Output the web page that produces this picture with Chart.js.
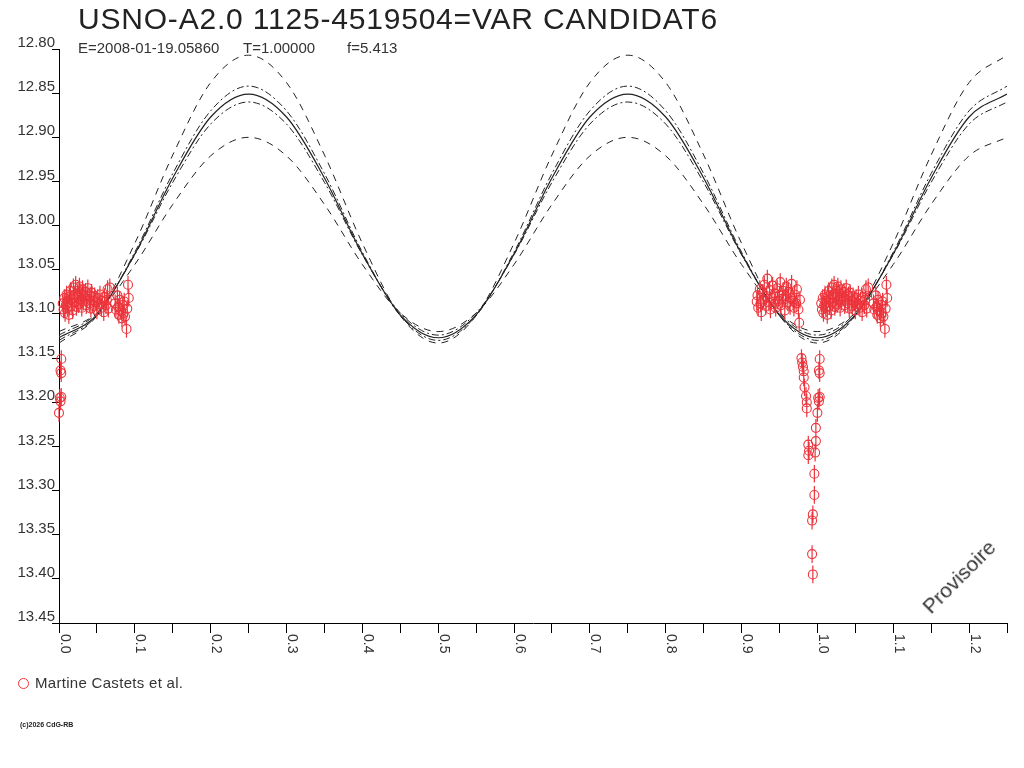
<!DOCTYPE html>
<html>
<head>
<meta charset="utf-8">
<script src="https://cdn.jsdelivr.net/npm/chart.js@4.4.1/dist/chart.umd.min.js"></script>
<style>
  body { margin: 0; background: #fff; }
  #wrap { position: relative; width: 1024px; height: 768px; overflow: hidden; font-family: "Liberation Sans", Arial, sans-serif; color: #222; }
  #lc { position: absolute; left: 0; top: 0; }
  .txt { position: absolute; white-space: nowrap; line-height: 1; }
  #title { left: 78px; top: 4px; font-size: 30px; letter-spacing: 0.8px; color: #222; }
  .sub { top: 40px; font-size: 15px; color: #333; }
  #legend { left: 18px; top: 675px; font-size: 15px; color: #333; letter-spacing: 0.3px; }
  #legend i { display: inline-block; width: 9px; height: 9px; border: 1px solid rgb(236,52,60); border-radius: 50%; margin-right: 6px; vertical-align: -1px; }
  #copy { left: 20px; top: 721px; font-size: 7px; color: #222; font-weight: bold; }
  #prov { left: 912px; top: 566px; font-size: 21px; color: #333; transform: rotate(-45deg); transform-origin: center; }
</style>
</head>
<body>
<div id="wrap">
  <canvas id="lc" width="1024" height="768"></canvas>
  <div class="txt" id="title">USNO-A2.0 1125-4519504=VAR CANDIDAT6</div>
  <div class="txt sub" style="left:78px">E=2008-01-19.05860</div>
  <div class="txt sub" style="left:243px">T=1.00000</div>
  <div class="txt sub" style="left:347px">f=5.413</div>
  <div class="txt" id="legend"><i></i>Martine Castets et al.</div>
  <div class="txt" id="copy">(c)2026 CdG-RB</div>
  <div class="txt" id="prov">Provisoire</div>
</div>
<script>
// x labels shown under the axis
xTickValues = [0.0, 0.1, 0.2, 0.3, 0.4, 0.5, 0.6, 0.7, 0.8, 0.9, 1.0, 1.1, 1.2];

// model curves, every 0.05 in phase
curvePhase = [0, 0.05, 0.1, 0.15, 0.2, 0.25, 0.3, 0.35, 0.4, 0.45, 0.5, 0.55, 0.6,
  0.65, 0.7, 0.75, 0.8, 0.85, 0.9, 0.95, 1.0, 1.05, 1.1, 1.15, 1.2, 1.25];
curveHigh = [13.133,13.102,13.020,12.920,12.838,12.807,12.838,12.920,13.020,13.102,13.133,13.102,13.020,
  12.920,12.838,12.807,12.838,12.920,13.020,13.102,13.133,13.102,13.020,12.920,12.838,12.807];
curveUpper = [13.130,13.102,13.030,12.941,12.870,12.842,12.870,12.941,13.030,13.102,13.130,13.102,13.030,
  12.941,12.870,12.842,12.870,12.941,13.030,13.102,13.130,13.102,13.030,12.941,12.870,12.842];
curveMean = [13.127,13.101,13.032,12.946,12.877,12.851,12.877,12.946,13.032,13.101,13.127,13.101,13.032,
  12.946,12.877,12.851,12.877,12.946,13.032,13.101,13.127,13.101,13.032,12.946,12.877,12.851];
curveLower = [13.124,13.099,13.033,12.951,12.885,12.860,12.885,12.951,13.033,13.099,13.124,13.099,13.033,
  12.951,12.885,12.860,12.885,12.951,13.033,13.099,13.124,13.099,13.033,12.951,12.885,12.860];
curveLow = [13.120,13.099,13.044,12.976,12.921,12.900,12.921,12.976,13.044,13.099,13.120,13.099,13.044,
  12.976,12.921,12.900,12.921,12.976,13.044,13.099,13.120,13.099,13.044,12.976,12.921,12.900];

// observations (phase, magnitude)
obsPhase = [
  0.003,0.002,0.003,0.001,0.003,0.000,0.002,
  0.005,0.006,0.007,0.008,0.009,0.010,0.011,0.012,0.013,0.014,0.015,0.016,0.017,0.018,0.019,0.020,
  0.021,0.022,0.023,0.024,0.025,0.026,0.027,0.028,0.029,0.030,0.031,0.032,0.033,0.035,0.036,0.037,
  0.038,0.040,0.041,0.042,0.043,0.045,0.046,0.047,0.049,0.050,0.051,0.053,0.054,0.056,0.057,0.059,
  0.060,0.062,0.063,0.064,0.065,0.067,
  0.074,0.075,0.077,0.078,0.079,0.080,0.082,0.083,0.084,0.085,0.086,0.087,0.089,0.090,0.091,0.092,
  0.920,0.921,0.922,0.924,0.925,0.926,0.928,0.929,0.930,0.932,0.933,0.934,0.936,0.937,0.938,0.940,
  0.941,0.943,0.944,0.945,0.947,0.948,0.950,0.951,0.952,0.954,0.955,0.957,0.958,0.959,0.961,0.962,
  0.964,0.965,0.966,0.968,0.969,0.970,0.972,0.973,0.975,0.976,0.977,
  0.979,0.980,0.981,0.982,0.982,0.983,0.985,0.986,0.986,
  0.988,0.989,0.988,0.998,0.998,0.997,0.996,0.996,0.994,0.993,0.993,0.994
];
obsMag = [
  13.151,13.164,13.167,13.195,13.194,13.212,13.199,
  13.088,13.095,13.082,13.099,13.090,13.078,13.093,13.085,13.101,13.080,13.074,13.091,13.083,13.096,13.070,13.087,
  13.078,13.067,13.092,13.081,13.074,13.089,13.069,13.084,13.077,13.093,13.072,13.086,13.080,13.075,13.090,13.083,
  13.071,13.088,13.079,13.094,13.076,13.085,13.091,13.080,13.087,13.096,13.082,13.089,13.078,13.093,13.085,13.098,
  13.081,13.090,13.084,13.072,13.094,13.070,
  13.088,13.095,13.079,13.092,13.101,13.084,13.097,13.105,13.090,13.099,13.086,13.103,13.117,13.094,13.067,13.082,
  13.086,13.079,13.093,13.072,13.088,13.098,13.076,13.084,13.067,13.091,13.080,13.060,13.087,13.073,13.095,13.082,
  13.068,13.089,13.077,13.093,13.071,13.085,13.079,13.064,13.090,13.083,13.074,13.096,13.080,13.069,13.087,13.075,
  13.091,13.082,13.066,13.085,13.093,13.078,13.088,13.072,13.095,13.110,13.084,
  13.150,13.155,13.160,13.165,13.172,13.183,13.193,13.200,13.207,
  13.248,13.255,13.260,13.229,13.244,13.257,13.281,13.305,13.327,13.334,13.372,13.395
];
obsError = 0.010;

redColor = 'rgb(236, 52, 60)';
inkColor = '#222';

// phases below 0.25 are shown a second time after 1.0
points = [];
for (i = 0; i < obsPhase.length; i++) {
  points.push({x: obsPhase[i], y: obsMag[i]});
  if (obsPhase[i] + 1 <= 1.25) {
    points.push({x: obsPhase[i] + 1, y: obsMag[i]});
  }
}

errBars = [];
points.forEach(function (p) {
  errBars.push({x: p.x, y: p.y - obsError});
  errBars.push({x: p.x, y: p.y + obsError});
  errBars.push({x: p.x, y: null});
});

function curve(values) {
  return curvePhase.map(function (ph, i) { return {x: ph, y: values[i]}; });
}

function curveSet(values, dash, width) {
  return {
    data: curve(values),
    showLine: true,
    borderColor: inkColor,
    borderWidth: width,
    borderDash: dash,
    pointRadius: 0,
    cubicInterpolationMode: 'monotone',
    order: 3
  };
}

// rotated x labels, reading top to bottom
const xLabelPlugin = {
  id: 'xLabels',
  afterDraw(chart) {
    const ctx = chart.ctx;
    const xs = chart.scales.x;
    ctx.save();
    ctx.fillStyle = '#333';
    ctx.font = '14px "Liberation Sans", Arial, sans-serif';
    ctx.textAlign = 'left';
    ctx.textBaseline = 'alphabetic';
    xTickValues.forEach(function (v) {
      ctx.save();
      ctx.translate(xs.getPixelForValue(v) + 1.5, chart.chartArea.bottom + 11);
      ctx.rotate(Math.PI / 2);
      ctx.fillText(v.toFixed(1), 0, 0);
      ctx.restore();
    });
    ctx.restore();
  }
};

const config = {
  type: 'scatter',
  data: {
    datasets: [
      {
        data: points,
        pointRadius: 4.5,
        pointBorderWidth: 1.1,
        pointBorderColor: redColor,
        pointBackgroundColor: 'rgba(0,0,0,0)',
        showLine: false,
        clip: 8,
        order: 0
      },
      {
        data: errBars,
        showLine: true,
        spanGaps: false,
        borderColor: redColor,
        borderWidth: 1.2,
        pointRadius: 0,
        clip: 8,
        order: 1
      },
      curveSet(curveHigh, [7, 6], 1),
      curveSet(curveUpper, [7, 3, 2, 3], 1),
      curveSet(curveMean, [], 1.2),
      curveSet(curveLower, [7, 3, 2, 3], 1),
      curveSet(curveLow, [7, 6], 1)
    ]
  },
  options: {
    responsive: false,
    animation: false,
    devicePixelRatio: 1,
    layout: {
      padding: {left: 0, top: 49, right: 17, bottom: 0}
    },
    plugins: {
      legend: {display: false},
      tooltip: {enabled: false}
    },
    scales: {
      x: {
        type: 'linear',
        min: 0,
        max: 1.25,
        afterFit: function (scale) { scale.height = 145; },
        border: {display: true, color: '#000', width: 1},
        grid: {
          drawOnChartArea: false,
          drawTicks: true,
          tickLength: 10,
          color: '#000'
        },
        ticks: {
          stepSize: 0.05,
          autoSkip: false,
          display: false
        }
      },
      y: {
        type: 'linear',
        reverse: true,
        min: 12.80,
        max: 13.45,
        afterFit: function (scale) { scale.width = 59; },
        border: {display: true, color: '#000', width: 1},
        grid: {
          drawOnChartArea: false,
          drawTicks: true,
          tickLength: 7,
          color: '#000'
        },
        ticks: {
          stepSize: 0.05,
          padding: -3,
          labelOffset: -6,
          color: '#333',
          font: {family: '"Liberation Sans", Arial, sans-serif', size: 15},
          callback: function (v) { return v.toFixed(2); }
        }
      }
    }
  },
  plugins: [xLabelPlugin]
};

const lightCurve = new Chart(document.getElementById('lc'), config);
</script>
</body>
</html>
